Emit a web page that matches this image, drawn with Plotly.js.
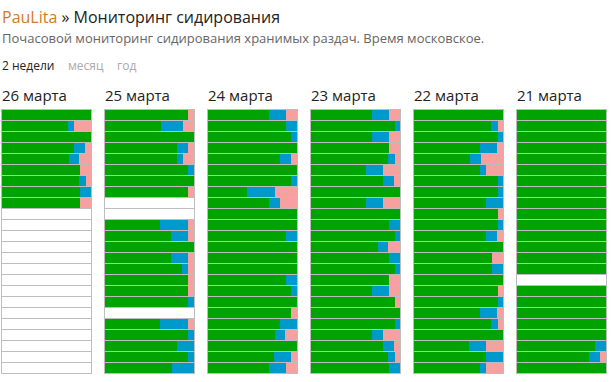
<!DOCTYPE html>
<html><head><meta charset="utf-8">
<script src="https://cdn.plot.ly/plotly-3.0.1.min.js"></script>
<style>html,body{margin:0;padding:0;background:#fff;}</style>
</head><body><div id="chart" style="width:612px;height:382px;"></div>
<script>
// Days (columns) and hours (rows)
const days = ["26 марта", "25 марта", "24 марта", "23 марта", "22 марта", "21 марта"];
const hours = ["00","01","02","03","04","05","06","07","08","09","10","11","12","13","14","15","16","17","18","19","20","21","22","23"];
const N = null;
// Share of kept releases (%): green = well seeded, blue = partly, pink = not seeded; null = no data
const green26 = [100,74,100,81,75,88,87,88,88,N,N,N,N,N,N,N,N,N,N,N,N,N,N,N];
const blue26  = [0,7,0,12,12,0,7,12,0,N,N,N,N,N,N,N,N,N,N,N,N,N,N,N];
const pink26  = [0,19,0,7,13,12,6,0,12,N,N,N,N,N,N,N,N,N,N,N,N,N,N,N];

const green25 = [93,63,100,81,81,93,100,93,N,N,62,74,100,74,86,93,93,93,N,62,93,81,93,75];
const blue25  = [0,25,0,12,7,7,0,0,N,N,31,19,0,19,7,0,0,7,N,31,7,19,7,25];
const pink25  = [7,12,0,7,12,0,0,7,N,N,7,7,0,7,7,7,7,0,N,7,0,0,0,0];

const green24 = [69,88,93,100,81,100,93,44,69,100,100,88,100,100,100,88,93,100,93,81,75,100,74,69];
const blue24  = [19,12,7,0,12,0,7,31,12,0,0,12,0,0,0,12,7,0,0,19,12,0,19,19];
const pink24  = [12,0,0,0,7,0,0,25,19,0,0,0,0,0,0,0,0,0,7,0,13,0,7,12];

const green23 = [69,94,69,88,87,62,81,100,62,100,88,94,75,88,94,88,69,94,100,94,69,81,87,88];
const blue23  = [19,6,19,0,7,19,12,0,19,0,12,6,12,12,6,0,19,0,0,6,12,12,7,12];
const pink23  = [12,0,12,12,6,19,7,0,19,0,0,0,13,0,0,12,12,6,0,0,19,7,6,0];

const green22 = [100,87,94,74,63,74,94,94,81,94,94,81,100,88,88,100,94,94,74,87,100,62,81,74];
const blue22  = [0,7,6,19,12,7,6,6,19,0,6,12,0,0,12,0,0,6,19,7,0,19,19,7];
const pink22  = [0,6,0,7,25,19,0,0,0,6,0,7,0,12,0,0,6,0,7,6,0,19,0,19];

const green21 = [100,100,100,100,100,100,100,100,100,100,100,100,100,100,100,N,100,100,100,100,100,88,81,100];
const blue21  = [0,0,0,0,0,0,0,0,0,0,0,0,0,0,0,N,0,0,0,0,0,12,12,0];
const pink21  = [0,0,0,0,0,0,0,0,0,0,0,0,0,0,0,N,0,0,0,0,0,0,7,0];

const greens = [green26, green25, green24, green23, green22, green21];
const blues  = [blue26, blue25, blue24, blue23, blue22, blue21];
const pinks  = [pink26, pink25, pink24, pink23, pink22, pink21];

const FONT = "Open Sans, Noto Sans, sans-serif";
const W = 612, H = 382, T = 109, B = 8;
const plotH = H - T - B;
const traces = [];
const layout = {
  width: W, height: H,
  margin: {l: 0, r: 0, t: T, b: B, pad: 0},
  paper_bgcolor: "#ffffff",
  plot_bgcolor: "#bdbdbd",
  barmode: "stack",
  bargap: 1/11,
  showlegend: false,
  font: {family: FONT, color: "#222"},
  annotations: [],
  hovermode: false
};
const py = px => (H - B - px) / plotH; // pixel -> paper y

days.forEach((d, i) => {
  const ax = i === 0 ? "" : String(i + 1);
  const xa = "x" + ax, ya = "y" + ax;
  const empty = greens[i].map(v => v === null ? 100 : 0);
  const series = [
    [greens[i], "#00a300"],
    [blues[i], "#0099cc"],
    [pinks[i], "#f7a0a0"],
    [empty, "#ffffff"]
  ];
  series.forEach(([vals, col]) => {
    traces.push({
      type: "bar", orientation: "h",
      x: vals.map(v => v === null ? 0 : v), y: hours,
      xaxis: xa, yaxis: ya,
      marker: {color: col, line: {width: 0}},
      hoverinfo: "skip"
    });
  });
  const x0 = (1 + 103 * i) / W, x1 = (92 + 103 * i) / W;
  layout["xaxis" + ax] = {
    domain: [x0, x1], range: [-1.124, 101.124],
    showgrid: false, zeroline: false, showticklabels: false, ticks: "",
    anchor: ya, fixedrange: true
  };
  layout["yaxis" + ax] = {
    domain: [0, 1], type: "category", range: [23.545, -0.545],
    showgrid: false, zeroline: false, showticklabels: false, ticks: "",
    anchor: xa, fixedrange: true
  };
  layout.annotations.push({
    text: d, xref: "paper", yref: "paper",
    x: (0 + 103 * i) / W, y: py(95), xanchor: "left", yanchor: "middle",
    showarrow: false, font: {size: 15, color: "#222", family: FONT}
  });
});

layout.annotations.push({
  text: '<span style="color:#d47a22">PauLita</span> » Мониторинг сидирования',
  xref: "paper", yref: "paper", x: 0, y: py(17), xanchor: "left", yanchor: "middle",
  showarrow: false, font: {size: 16, color: "#222", family: FONT}
});
layout.annotations.push({
  text: "Почасовой мониторинг сидирования хранимых раздач. Время московское.",
  xref: "paper", yref: "paper", x: 0, y: py(38), xanchor: "left", yanchor: "middle",
  showarrow: false, font: {size: 13, color: "#666", family: FONT}
});
layout.annotations.push({
  text: "2 недели",
  xref: "paper", yref: "paper", x: 0, y: py(65), xanchor: "left", yanchor: "middle",
  showarrow: false, font: {size: 12, color: "#222", family: FONT}
});
layout.annotations.push({
  text: "месяц",
  xref: "paper", yref: "paper", x: 66 / W, y: py(65), xanchor: "left", yanchor: "middle",
  showarrow: false, font: {size: 12, color: "#aaa", family: FONT}
});
layout.annotations.push({
  text: "год",
  xref: "paper", yref: "paper", x: 115 / W, y: py(65), xanchor: "left", yanchor: "middle",
  showarrow: false, font: {size: 12, color: "#aaa", family: FONT}
});

Plotly.newPlot("chart", traces, layout, {displayModeBar: false, staticPlot: true});
</script></body></html>
